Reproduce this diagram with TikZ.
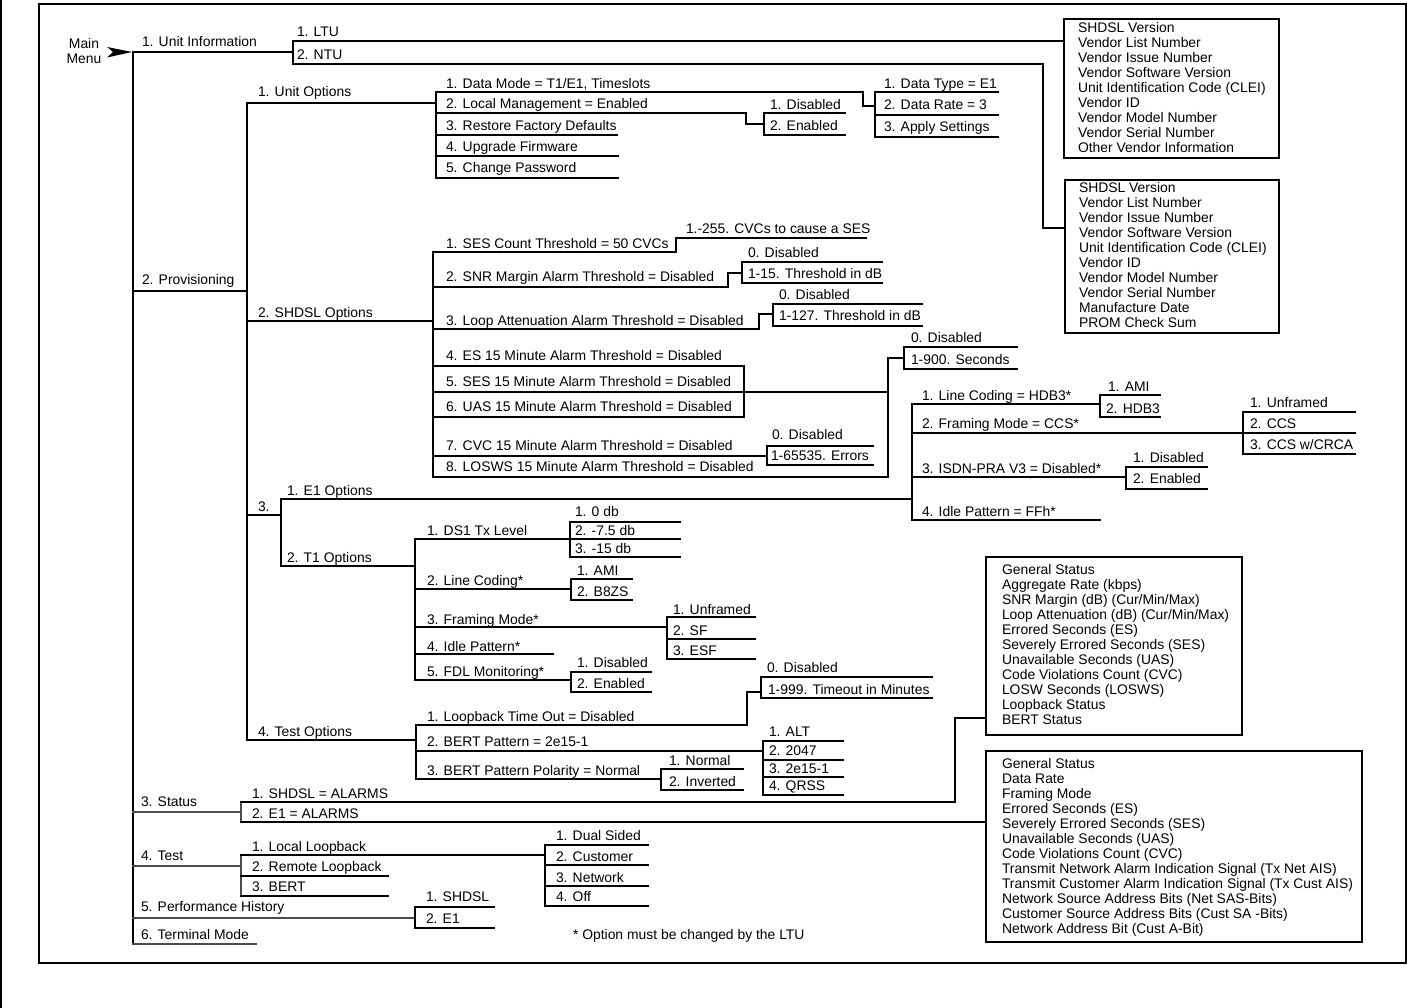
\documentclass[tikz,border=0pt]{standalone}
\usepackage{fontspec}
\setmainfont{Liberation Sans}
\usetikzlibrary{arrows.meta}
\newcommand{\mitem}[8]{\draw[#2] (#3,#5) -- (#4,#5); \node[lbl] (#1) at (#6,#7+3.5) {#8};}
\begin{document}
\begin{tikzpicture}[x=1pt,y=-1pt,
 lbl/.style={anchor=base west, inner sep=0pt, outer sep=0pt, font=\fontsize{13.9}{15}\selectfont},
 tn/.style={line width=1.1pt, line cap=rect, line join=miter},
 md/.style={line width=1.5pt, line cap=rect, line join=miter},
 tk/.style={line width=2.3pt, line cap=rect, line join=miter},
 gr/.style={line width=1.6pt, draw=black!70, line cap=rect},
 boxs/.style={draw, line width=1.6pt, inner sep=0pt, anchor=north west}]
\useasboundingbox (0,0) rectangle (1407,1008);
% frame
\draw[line width=1.3pt] (39,4) rectangle (1406,963);
\draw[line width=1.5pt] (1,0) -- (1,1008);
% main menu
\node[lbl, anchor=center, align=center] (mm) at (84,51) {Main\\Menu};
\fill (107,47) -- (132,52) -- (107,57.5) -- (113,52) -- cycle;
\draw[md] (133,52) -- (133,944);
% unit information
\mitem{ui}{md}{133}{293}{52}{142}{43}{1. Unit Information}
\draw[md] (293,41) -- (293,64);
\mitem{ltu}{md}{293}{1063}{41}{297}{33}{1. LTU}
\mitem{ntu}{md}{293}{1043}{64}{297}{56}{2. NTU}
\draw[tk] (1043,64) -- (1043,228) -- (1064,228);
\node[boxs, minimum width=215pt, minimum height=139pt] (box1) at (1063,18) {};
\foreach \t [count=\i] in {SHDSL Version, Vendor List Number, Vendor Issue Number, Vendor Software Version, {Unit Identification Code (CLEI)}, Vendor ID, Vendor Model Number, Vendor Serial Number, Other Vendor Information}
 \node[lbl] (ba\i) at (1078,32.5+15*\i-15) {\t};
\node[boxs, minimum width=214pt, minimum height=153pt] (box2) at (1064,179) {};
\foreach \t [count=\i] in {SHDSL Version, Vendor List Number, Vendor Issue Number, Vendor Software Version, {Unit Identification Code (CLEI)}, Vendor ID, Vendor Model Number, Vendor Serial Number, Manufacture Date, PROM Check Sum}
 \node[lbl] (bb\i) at (1079,192.5+15*\i-15) {\t};
% provisioning
\mitem{prov}{md}{133}{247}{291}{142}{281}{2. Provisioning}
\draw[md] (247,103) -- (247,740);
\mitem{uo}{tn}{247}{436}{103}{258}{93}{1. Unit Options}
\draw[md] (436,92) -- (436,178);
\mitem{dm}{tk}{436}{863}{92}{446}{85}{1. Data Mode = T1/E1, Timeslots}
\draw[tk] (863,92) -- (863,106) -- (875,106);
\mitem{lm}{tk}{436}{746}{113}{446}{105}{2. Local Management = Enabled}
\draw[tn] (746,113) -- (746,124) -- (764,124);
\mitem{rf}{tn}{436}{617}{135}{446}{127}{3. Restore Factory Defaults}
\mitem{uf}{tk}{436}{618}{156}{446}{148}{4. Upgrade Firmware}
\mitem{cp}{tn}{436}{618}{178}{446}{169}{5. Change Password}
\draw[tn] (764,113) -- (764,135);
\mitem{lmd}{tk}{764}{845}{113}{770}{106}{1. Disabled}
\mitem{lme}{tn}{764}{845}{135}{770}{127}{2. Enabled}
\draw[tk] (875,92) -- (875,137);
\mitem{dt}{tn}{875}{998}{92}{884}{85}{1. Data Type = E1}
\mitem{dr}{tk}{875}{998}{115}{884}{106}{2. Data Rate = 3}
\mitem{as}{tk}{875}{998}{137}{884}{128}{3. Apply Settings}
% SHDSL options
\mitem{so}{tn}{247}{433}{321}{258}{314}{2. SHDSL Options}
\draw[tk] (433,252) -- (433,477);
\mitem{sc}{tn}{433}{676}{252}{446}{245}{1. SES Count Threshold = 50 CVCs}
\draw[tn] (676,252) -- (676,238);
\mitem{sc1}{tn}{676}{866}{238}{686}{230}{1.-255. CVCs to cause a SES}
\mitem{snr}{tn}{433}{728}{287}{446}{278}{2. SNR Margin Alarm Threshold = Disabled}
\draw[tk] (728,287) -- (728,273) -- (742,273);
\draw[tk] (742,262) -- (742,283);
\mitem{snr0}{tk}{742}{882}{262}{748}{254}{0. Disabled}
\mitem{snr1}{tn}{742}{882}{283}{748}{275}{1-15. Threshold in dB}
\mitem{la}{tn}{433}{759}{329}{446}{322}{3. Loop Attenuation Alarm Threshold = Disabled}
\draw[tk] (759,329) -- (759,314) -- (773,314);
\draw[tk] (773,304) -- (773,326);
\mitem{la0}{tk}{773}{922}{304}{779}{296}{0. Disabled}
\mitem{la1}{tn}{773}{922}{326}{779}{317}{1-127. Threshold in dB}
\mitem{es}{tn}{433}{744}{366}{446}{357}{4. ES 15 Minute Alarm Threshold = Disabled}
\mitem{ses}{tn}{433}{888}{392}{446}{383}{5. SES 15 Minute Alarm Threshold = Disabled}
\mitem{uas}{tk}{433}{744}{417}{446}{408}{6. UAS 15 Minute Alarm Threshold = Disabled}
\draw[tn] (744,366) -- (744,417);
\draw[tn] (888,358) -- (888,477);
\draw[tk] (888,358) -- (904,358);
\draw[tk] (904,347) -- (904,369);
\mitem{a0}{tk}{904}{1017}{347}{911}{339}{0. Disabled}
\mitem{a1}{tn}{904}{1017}{369}{911}{361}{1-900. Seconds}
\mitem{cvc}{tn}{433}{767}{456}{446}{447}{7. CVC 15 Minute Alarm Threshold = Disabled}
\draw[tn] (767,446) -- (767,465);
\mitem{c0}{tn}{767}{873}{446}{772}{436}{0. Disabled}
\mitem{c1}{tk}{767}{873}{465}{771}{457}{1-65535. Errors}
\mitem{los}{tn}{433}{888}{477}{446}{468}{8. LOSWS 15 Minute Alarm Threshold = Disabled}
% 3. E1 / T1
\mitem{three}{tn}{247}{281}{515}{258}{508}{3.}
\draw[tn] (281,499) -- (281,566);
\mitem{e1o}{tn}{281}{912}{499}{287}{492}{1. E1 Options}
\draw[tk] (912,404) -- (912,520);
\mitem{elc}{tk}{912}{1100}{404}{922}{397}{1. Line Coding = HDB3*}
\draw[tk] (1100,395) -- (1100,417);
\mitem{ela}{tk}{1100}{1160}{395}{1108}{388}{1. AMI}
\mitem{elh}{tk}{1100}{1160}{417}{1106}{410}{2. HDB3}
\mitem{efm}{tk}{912}{1243}{433}{922}{425}{2. Framing Mode = CCS*}
\draw[tn] (1243,412) -- (1243,454);
\mitem{efu}{tn}{1243}{1355}{412}{1250}{404}{1. Unframed}
\mitem{efc}{tk}{1243}{1355}{433}{1250}{425}{2. CCS}
\mitem{efr}{tk}{1243}{1355}{454}{1250}{446}{3. CCS w/CRCA}
\mitem{eis}{tn}{912}{1126}{477}{922}{470}{3. ISDN-PRA V3 = Disabled*}
\draw[tk] (1126,467) -- (1126,489);
\mitem{eid}{tk}{1126}{1207}{467}{1133}{459}{1. Disabled}
\mitem{eie}{tk}{1126}{1207}{489}{1133}{480}{2. Enabled}
\mitem{eip}{tk}{912}{1100}{520}{922}{513}{4. Idle Pattern = FFh*}
\mitem{t1o}{tk}{281}{415}{566}{287}{559}{2. T1 Options}
\draw[tk] (415,539) -- (415,680);
\mitem{ds}{tn}{415}{570}{539}{427}{532}{1. DS1 Tx Level}
\draw[tn] (570,522) -- (570,557);
\mitem{ds1}{tn}{570}{680}{522}{575}{513}{1. 0 db}
\mitem{ds2}{tn}{570}{680}{539}{575}{532}{2. -7.5 db}
\mitem{ds3}{tk}{570}{680}{557}{575}{550}{3. -15 db}
\mitem{tlc}{tk}{415}{571}{589}{427}{582}{2. Line Coding*}
\draw[tk] (571,579) -- (571,600);
\mitem{tla}{tn}{571}{632}{579}{577}{572}{1. AMI}
\mitem{tlb}{tn}{571}{632}{600}{577}{593}{2. B8ZS}
\mitem{tfm}{tn}{415}{667}{627}{427}{621}{3. Framing Mode*}
\draw[tn] (667,617) -- (667,659);
\mitem{tfu}{tk}{667}{755}{617}{673}{611}{1. Unframed}
\mitem{tfs}{tk}{667}{755}{639}{673}{632}{2. SF}
\mitem{tfe}{tn}{667}{755}{659}{673}{652}{3. ESF}
\mitem{tip}{tn}{415}{553}{654}{427}{648}{4. Idle Pattern*}
\mitem{tfd}{tk}{415}{571}{680}{427}{673}{5. FDL Monitoring*}
\draw[tn] (571,672) -- (571,692);
\mitem{tfd1}{tn}{571}{651}{672}{577}{664}{1. Disabled}
\mitem{tfd2}{tn}{571}{651}{692}{577}{685}{2. Enabled}
% test options
\mitem{to}{tn}{247}{416}{740}{258}{733}{4. Test Options}
\draw[tn] (416,725) -- (416,779);
\mitem{lto}{tk}{416}{747}{725}{427}{718}{1. Loopback Time Out = Disabled}
\draw[tk] (747,725) -- (747,692) -- (761,692);
\draw[tk] (761,677) -- (761,698);
\mitem{lt0}{tn}{761}{932}{677}{767}{669}{0. Disabled}
\mitem{lt1}{tk}{761}{932}{698}{768}{691}{1-999. Timeout in Minutes}
\mitem{bp}{tn}{416}{763}{751}{427}{743}{2. BERT Pattern = 2e15-1}
\draw[md] (763,741) -- (763,795);
\mitem{bp1}{tn}{763}{843}{741}{769}{733}{1. ALT}
\mitem{bp2}{tn}{763}{843}{760}{769}{752}{2. 2047}
\mitem{bp3}{tk}{763}{843}{777}{769}{770}{3. 2e15-1}
\mitem{bp4}{tk}{763}{843}{795}{769}{787}{4. QRSS}
\mitem{bpp}{tn}{416}{661}{779}{427}{772}{3. BERT Pattern Polarity = Normal}
\draw[tn] (661,769) -- (661,790);
\mitem{bpn}{tn}{661}{743}{769}{669}{762}{1. Normal}
\mitem{bpi}{tn}{661}{743}{790}{669}{783}{2. Inverted}
% status
\mitem{st}{gr}{133}{241}{812}{141}{803}{3. Status}
\draw[gr] (241,802) -- (241,822);
\mitem{sts}{tk}{241}{955}{802}{252}{795}{1. SHDSL = ALARMS}
\draw[md] (955,802) -- (955,718) -- (985,718);
\mitem{ste}{tk}{241}{985}{822}{252}{815}{2. E1 = ALARMS}
\node[boxs, minimum width=256pt, minimum height=178pt] (box3) at (985,556) {};
\foreach \t [count=\i] in {General Status, {Aggregate Rate (kbps)}, {SNR Margin (dB) (Cur/Min/Max)}, {Loop Attenuation (dB) (Cur/Min/Max)}, {Errored Seconds (ES)}, {Severely Errored Seconds (SES)}, {Unavailable Seconds (UAS)}, {Code Violations Count (CVC)}, {LOSW Seconds (LOSWS)}, Loopback Status, BERT Status}
 \node[lbl] (bc\i) at (1002,574+15*\i-15) {\t};
\node[boxs, minimum width=376pt, minimum height=191pt] (box4) at (985,750) {};
\foreach \t [count=\i] in {General Status, Data Rate, Framing Mode, {Errored Seconds (ES)}, {Severely Errored Seconds (SES)}, {Unavailable Seconds (UAS)}, {Code Violations Count (CVC)}, {Transmit Network Alarm Indication Signal (Tx Net AIS)}, {Transmit Customer Alarm Indication Signal (Tx Cust AIS)}, {Network Source Address Bits (Net SAS-Bits)}, {Customer Source Address Bits (Cust SA -Bits)}, {Network Address Bit (Cust A-Bit)}}
 \node[lbl] (bd\i) at (1002,768+15*\i-15) {\t};
% test
\mitem{te}{gr}{133}{241}{866}{141}{857}{4. Test}
\draw[gr] (241,855) -- (241,896);
\mitem{tll}{tn}{241}{545}{855}{252}{848}{1. Local Loopback}
\mitem{trl}{tn}{241}{388}{876}{252}{868}{2. Remote Loopback}
\mitem{tb}{tn}{241}{388}{896}{252}{888}{3. BERT}
\draw[tn] (545,845) -- (545,906);
\mitem{tl1}{tn}{545}{648}{845}{556}{837}{1. Dual Sided}
\mitem{tl2}{tn}{545}{648}{865}{556}{858}{2. Customer}
\mitem{tl3}{tn}{545}{648}{886}{556}{879}{3. Network}
\mitem{tl4}{tn}{545}{648}{906}{556}{898}{4. Off}
% performance history / terminal mode
\mitem{ph}{gr}{133}{415}{918}{141}{908}{5. Performance History}
\draw[tn] (415,907) -- (415,928);
\mitem{ph1}{tn}{415}{494}{907}{426}{898}{1. SHDSL}
\mitem{ph2}{tk}{415}{494}{928}{426}{920}{2. E1}
\mitem{tm}{gr}{133}{256}{944}{141}{936}{6. Terminal Mode}
\node[lbl] (note) at (573,939) {* Option must be changed by the LTU};
\end{tikzpicture}
\end{document}
